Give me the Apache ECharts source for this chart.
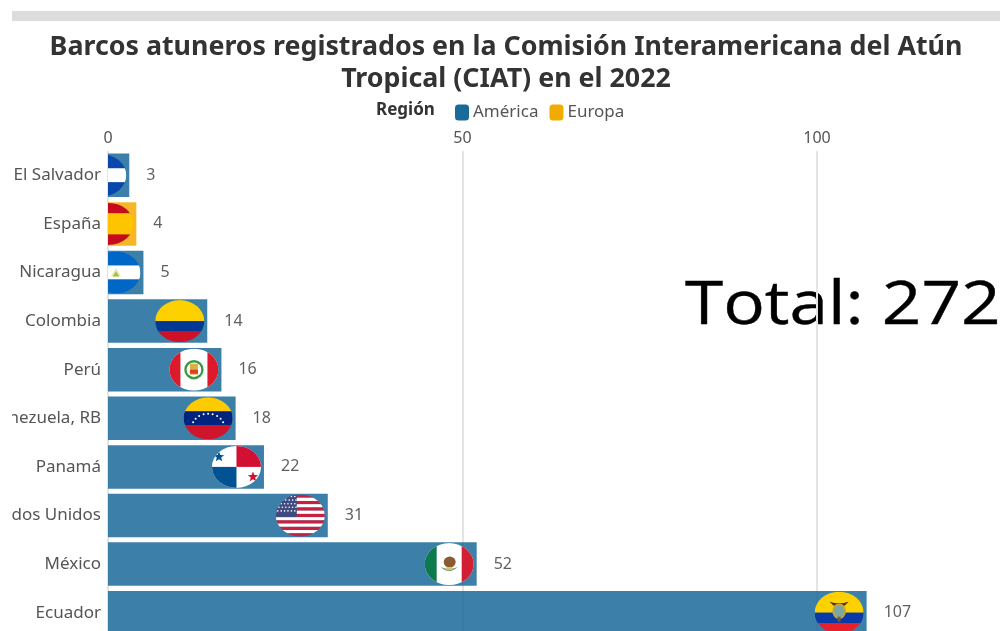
<!DOCTYPE html>
<html><head><meta charset="utf-8">
<style>html,body{margin:0;padding:0;background:#fff;overflow:hidden}
#c{position:absolute;left:12px;top:0;width:988px;height:631px}</style>
<script src="https://cdn.jsdelivr.net/npm/echarts@6/dist/echarts.min.js"></script>
</head><body><div id="c"></div>
<script>
const categories = ['El Salvador','España','Nicaragua','Colombia','Perú','Venezuela, RB','Panamá','Estados Unidos','México','Ecuador'];
const americaValues = [3,null,5,14,16,18,22,31,52,107];
const europaValues = [null,4,null,null,null,null,null,null,null,null];
const flagCodes = ['sv','es','ni','co','pe','ve','pa','us','mx','ec'];
const titleText = 'Barcos atuneros registrados en la Comisión Interamericana del Atún\nTropical (CIAT) en el 2022';
const totalText = 'Total: 272';

function rect(x,y,w,h,c){return `<rect x="${x}" y="${y}" width="${w}" height="${h}" fill="${c}"/>`;}
function stripes(){let s='';for(let i=0;i<13;i++){s+=rect(0,i*42/13,49,42/13+.05,i%2?'#fff':'#c8213f');}return s;}
function usStars(){let s='';for(let r=0;r<5;r++)for(let k=0;k<6;k++){s+=`<circle cx="${2+k*3.4+(r%2?1.2:0)}" cy="${2+r*3.6}" r=".8" fill="#fff"/>`;}return s;}
function veStars(){let s='';[[9.5,25],[12,21.5],[15.5,18.6],[20,17],[24.5,16.5],[29,17],[33.5,18.6],[37,21.5],[39.5,25]].forEach(p=>{s+=`<circle cx="${p[0]}" cy="${p[1]}" r="1" fill="#fff"/>`;});return s;}
const flagBodies = {
  sv: rect(0,0,49,14,'#0a47ad')+rect(0,14,49,14,'#fff')+rect(0,28,49,14,'#0a47ad'),
  es: rect(0,0,49,10.5,'#c60b1e')+rect(0,10.5,49,21,'#ffc400')+rect(0,31.5,49,10.5,'#c60b1e'),
  ni: rect(0,0,49,14,'#0067c6')+rect(0,14,49,14,'#fff')+rect(0,28,49,14,'#0067c6')+'<path d="M24.5 16.5l5 8.5h-10z" fill="#e8e4b0"/><path d="M24.5 20l3.2 5h-6.4z" fill="#97c43c"/>',
  co: rect(0,0,49,21,'#fdd000')+rect(0,21,49,10.5,'#003893')+rect(0,31.5,49,10.5,'#ce1126'),
  pe: rect(0,0,49,42,'#fff')+rect(0,0,11,42,'#dd1a2b')+rect(38,0,11,42,'#dd1a2b')+'<circle cx="24.5" cy="21" r="8.5" fill="none" stroke="#3a9a4a" stroke-width="2.4"/><rect x="20.5" y="15" width="8" height="11" fill="#e0b03c"/><rect x="20.5" y="21" width="8" height="4" fill="#d6402c"/>',
  ve: rect(0,0,49,14,'#fdcb00')+rect(0,14,49,14,'#00247d')+rect(0,28,49,14,'#cf142b')+veStars(),
  pa: rect(0,0,49,42,'#fff')+rect(24.5,0,24.5,21,'#d21034')+rect(0,21,24.5,21,'#005293')+'<path d="M6 7.500l1.400 3.600 3.800.2-3 2.400 1 3.700-3.200-2.100-3.200 2.100 1-3.700-3-2.400 3.800-.2z" transform="translate(1,-2)" fill="#005293"/><path d="M42 25.500l1.400 3.600 3.800.2-3 2.400 1 3.700-3.200-2.100-3.200 2.100 1-3.700-3-2.400 3.800-.2z" transform="translate(-1,0)" fill="#d21034"/>',
  us: stripes()+rect(0,0,21,22.6,'#3f4a80')+usStars(),
  mx: rect(0,0,49,42,'#fff')+rect(0,0,12,42,'#0d7a4e')+rect(37,0,12,42,'#d21f33')+'<ellipse cx="25" cy="19" rx="6" ry="5.5" fill="#8a5a34"/><path d="M16 24q8.500 8 17 0q-8.500 4-17 0z" fill="#5d9a5a"/><ellipse cx="24.500" cy="25.500" rx="4" ry="1.700" fill="#d8c07a"/>',
  ec: rect(0,0,49,21,'#fdd000')+rect(0,21,49,10.5,'#0a3aa8')+rect(0,31.5,49,10.5,'#e8202a')+'<path d="M15 10q9 3 19 0l-4 4h-11z" fill="#4a3a24"/><ellipse cx="24.500" cy="19.500" rx="6" ry="7" fill="#7fa7a0" stroke="#c8a438" stroke-width="1.600"/><rect x="23" y="25" width="3" height="5" fill="#7a5a2a"/>'
};
function flagUri(code){
  const svg = `<svg xmlns="http://www.w3.org/2000/svg" width="49" height="42" viewBox="0 0 49 42"><defs><clipPath id="k"><ellipse cx="24.5" cy="21" rx="24.5" ry="21"/></clipPath></defs><g clip-path="url(#k)">${flagBodies[code]}</g></svg>`;
  return 'data:image/svg+xml;charset=utf-8,'+encodeURIComponent(svg);
}
const flagData = categories.map((c,i)=>[americaValues[i]!=null?americaValues[i]:europaValues[i], i, flagCodes[i]]);
const flagUris = {}; flagCodes.forEach(c=>{flagUris[c]=flagUri(c);});

const labelCfg = {show:true,position:'right',distance:17,color:'#444',fontFamily:'Noto Sans',fontSize:16};
const chart = echarts.init(document.getElementById('c'),null,{renderer:'canvas'});
chart.setOption({
  animation:false,
  backgroundColor:'#fff',
  title:{text:titleText,left:'center',top:27,textStyle:{fontFamily:'Noto Sans',fontWeight:700,fontSize:26.8,lineHeight:31.5,color:'#333'}},
  legend:{left:443,top:104,padding:0,itemWidth:14,itemHeight:16,itemGap:11,icon:'roundRect',
    data:['América','Europa'],itemStyle:{opacity:1},
    textStyle:{fontFamily:'Noto Sans',fontSize:17,color:'#555',padding:[0,0,0,-1]}},
  grid:{left:96,top:151,width:1063.5,height:486,outerBoundsMode:'none'},
  xAxis:{type:'value',position:'top',min:0,max:150,interval:50,
    axisLine:{show:false},axisTick:{show:false},
    axisLabel:{color:'#555',fontFamily:'Noto Sans',fontSize:16,margin:5},
    splitLine:{show:true,lineStyle:{color:'#e4e4e4',width:2}}},
  yAxis:{type:'category',inverse:true,data:categories,
    axisLine:{show:false},axisTick:{show:false},
    axisLabel:{color:'#555',fontFamily:'Noto Sans',fontSize:17,margin:7}},
  series:[
    {name:'América',type:'bar',stack:'r',data:americaValues,barWidth:43.5,itemStyle:{color:'#1a6a9a',opacity:.85},label:labelCfg},
    {name:'Europa',type:'bar',stack:'r',data:europaValues,barWidth:43.5,itemStyle:{color:'#f2ab00',opacity:.85},label:labelCfg},
    {name:'flags',type:'custom',clip:true,z:5,data:flagData,encode:{x:0,y:1},
     renderItem:(p,api)=>{
       const pt=api.coord([api.value(0),api.value(1)]);
       const w=49,h=42;
       return {type:'image',style:{image:flagUris[flagCodes[p.dataIndex]],x:pt[0]-3-w,y:pt[1]-h/2,width:w,height:h}};
     }}
  ],
  graphic:[
    {type:'rect',left:0,top:11,shape:{width:988,height:10},style:{fill:'#dcdcdc'},silent:true},
    {type:'text',left:364,top:102,style:{text:'Región',fontFamily:'Noto Sans',fontWeight:700,fontSize:17,fill:'#333'}},
    {type:'text',x:673,y:277,z:-1,scaleX:1.155,style:{text:totalText,fontFamily:'Open Sans',fontSize:60,fill:'#000',stroke:'#000',lineWidth:.4}}
  ]
});
</script></body></html>
